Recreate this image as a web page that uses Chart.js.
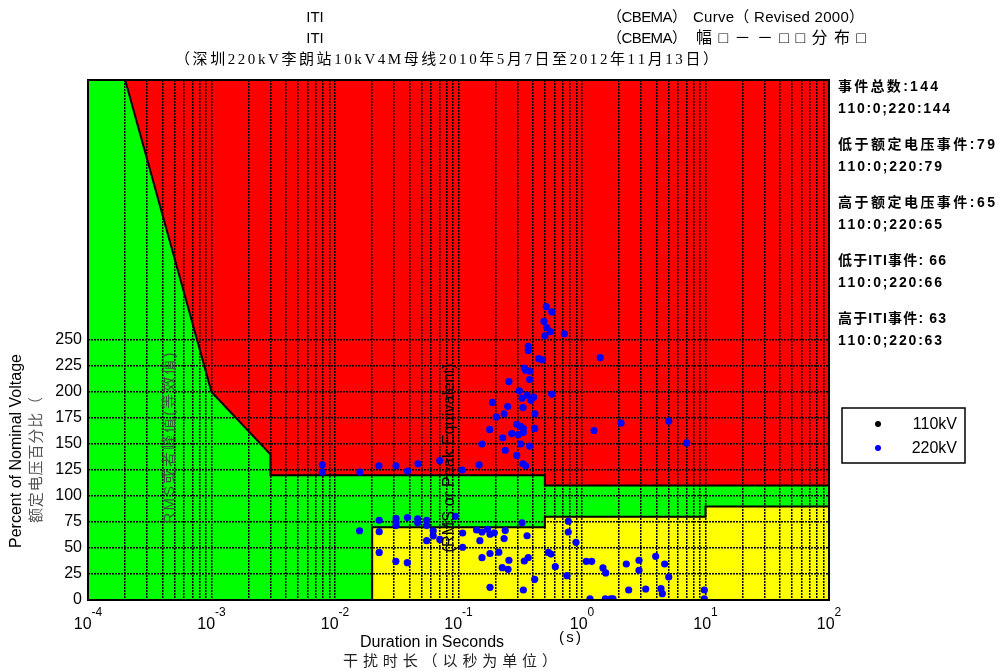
<!DOCTYPE html>
<html>
<head>
<meta charset="utf-8">
<script src="https://cdn.jsdelivr.net/npm/chart.js@4/dist/chart.umd.min.js"></script>
<style>
html, body { margin: 0; padding: 0; background: #fff; }
canvas { display: block; }
</style>
</head>
<body>
<canvas id="iti" width="999" height="671"></canvas>
<script>
// ITI (CBEMA) tolerance boundaries: duration in seconds, percent of nominal voltage
const upperCurveDuration = [1e-4, 2e-4, 1e-3, 3e-3, 3e-3, 0.5, 0.5, 100];
const upperCurvePercent  = [500, 500, 200, 140, 120, 120, 110, 110];
const lowerCurveDuration = [0.02, 0.02, 0.5, 0.5, 10, 10, 100];
const lowerCurvePercent  = [0, 70, 70, 80, 80, 90, 90];

// Recorded voltage events on the 220kV side: duration (s) and magnitude (% of nominal)
const events220Duration = [
  0.514, 0.569, 0.492, 0.518, 0.554, 0.501, 0.719, 0.367, 0.367, 0.446,
  0.477, 1.406, 0.341, 0.350, 0.377, 0.377, 0.256, 0.311, 0.327, 0.359,
  0.406, 0.386, 0.569, 0.188, 0.250, 0.333, 0.234, 0.202, 0.416, 0.296,
  0.319, 0.335, 0.414, 0.335, 0.305, 0.270, 0.228, 0.179, 1.251, 2.07,
  5.04, 7.05, 0.155, 0.319, 0.377, 0.239, 0.296, 0.333, 0.350, 0.147,
  0.107, 0.0705, 0.0470, 0.0386, 0.00789, 0.00789, 0.0159, 0.0227, 0.0312,
  0.0158, 0.0228, 0.0228, 0.0228, 0.0312, 0.0312, 0.0312, 0.0311, 0.0386, 0.0385,
  0.0467, 0.0467, 0.0553, 0.0553, 0.0553, 0.0624, 0.0624, 0.0706, 0.0942, 0.108,
  0.108, 0.140, 0.155, 0.149, 0.172, 0.180, 0.195, 0.239, 0.234, 0.327,
  0.359, 0.155, 0.180, 0.212, 0.256, 0.226, 0.252, 0.341, 0.367, 0.535,
  0.561, 0.414, 0.180, 0.335, 0.774, 0.774, 0.894, 0.608, 0.756, 1.083,
  1.198, 1.479, 1.556, 1.161, 1.545, 1.708, 1.782, 2.284, 2.895, 2.895,
  2.388, 3.28, 3.95, 4.67, 5.04, 4.36, 4.47, 9.78, 9.78
];
const events220Percent = [
  282, 277, 268, 262, 258, 254, 256, 244, 240, 232,
  231, 233, 223, 221, 220, 212, 210, 201, 194, 197,
  195, 192, 198, 190, 186, 185, 179, 176, 179, 169,
  167, 165, 165, 161, 159, 160, 156, 164, 163, 170,
  172, 151, 150, 150, 148, 144, 139, 131, 129, 130,
  125, 134, 131, 124, 130, 123, 123, 129, 129,
  66.6, 76.7, 65.7, 45.7, 78.4, 74.7, 71.6, 37.2, 79.3, 35.9,
  78.1, 74.3, 76.7, 71.6, 57, 66.6, 61.7, 58.2, 80.5, 64.4,
  50.7, 67.3, 65.4, 57, 68, 63.2, 64.6, 66.8, 59.1, 74.3,
  61.8, 40.7, 44.7, 46, 38.2, 31.1, 29.5, 37.5, 40.7, 45.7,
  44.2, 19.9, 12.2, 9.6, 75.7, 65.4, 55.5, 32, 23.4, 37.2,
  37.2, 30.8, 26, 1, 1, 1, 1, 34.6, 38.2, 28.6,
  9.6, 10.6, 42, 34.6, 22.1, 10.9, 6.1, 9.6, 1
];
// No events were recorded on the 110kV side
const events110Duration = [];
const events110Percent = [];

// Axis ticks
const xDecadeExponents = [-4, -3, -2, -1, 0, 1, 2];
const yTickValues = [0, 25, 50, 75, 100, 125, 150, 175, 200, 225, 250];

// Text blocks
const titleLines = ['ITI', 'ITI'];
const titleRightLines = [
  ['（CBEMA）', 'Curve（ Revised 2000）'],
  ['（CBEMA）', '幅□－－□□分布□']
];
const subtitle = '（深圳220kV李朗站10kV4M母线2010年5月7日至2012年11月13日）';
const summaryLines = [
  ['事件总数:144', '110:0;220:144'],
  ['低于额定电压事件:79', '110:0;220:79'],
  ['高于额定电压事件:65', '110:0;220:65'],
  ['低于ITI事件: 66', '110:0;220:66'],
  ['高于ITI事件: 63', '110:0;220:63']
];
const legendLabels = ['110kV', '220kV'];
const legendColors = ['#000000', '#0000ff'];
const yTitle = 'Percent of Nominal Voltage';
const yTitleCn = '额定电压百分比（';
const xTitle = 'Duration in Seconds';
const xUnit = '(s)';
const xTitleCn = '干扰时长（以秒为单位）';
const rmsCn = 'RMS或者峰值(等效值)';
const rmsEn = '(RMS or Peak Equivalent)';

// Vertical grid at every 1..9 x 10^n step across the decades
const xGridValues = [];
for (let i = 0; i < xDecadeExponents.length - 1; i++) {
  for (let m = 1; m <= 9; m++) {
    xGridValues.push(Number((m * Math.pow(10, xDecadeExponents[i])).toPrecision(12)));
  }
}
xGridValues.push(Math.pow(10, xDecadeExponents[xDecadeExponents.length - 1]));

const toPoints = (xs, ys) => xs.map((x, i) => ({ x: x, y: ys[i] }));

const SANS = "'Liberation Sans', Arial, 'Noto Sans CJK SC', sans-serif";
const CJK = "'Liberation Sans', 'Noto Sans CJK SC', sans-serif";
const SERIF_CJK = "'Liberation Serif', 'Noto Sans CJK SC', serif";

// Spread characters evenly over a given width
function spacedText(ctx, text, x, y, width, align) {
  const chars = Array.from(text);
  const widths = chars.map(c => ctx.measureText(c).width);
  const natural = widths.reduce((a, b) => a + b, 0);
  const gap = chars.length > 1 ? (width - natural) / (chars.length - 1) : 0;
  let cx = align === 'center' ? x - width / 2 : x;
  ctx.textAlign = 'left';
  chars.forEach((c, i) => { ctx.fillText(c, cx, y); cx += widths[i] + gap; });
}

const decorations = {
  id: 'decorations',
  afterDatasetsDraw(chart) {
    const { ctx, chartArea: a } = chart;
    ctx.save();
    ctx.strokeStyle = '#000';
    ctx.lineWidth = 2;
    ctx.strokeRect(a.left, a.top, a.right - a.left, a.bottom - a.top);
    ctx.restore();
  },
  afterDraw(chart) {
    const { ctx, scales } = chart;
    const xs = scales.x;
    ctx.save();
    ctx.fillStyle = '#000';
    ctx.textBaseline = 'alphabetic';

    // x tick labels: 10 with superscript exponent
    xDecadeExponents.forEach(e => {
      const px = xs.getPixelForValue(Math.pow(10, e));
      ctx.font = '16px ' + SANS;
      const wBase = ctx.measureText('10').width;
      ctx.font = '12px ' + SANS;
      const expText = String(e);
      const wExp = ctx.measureText(expText).width;
      const start = px - (wBase + wExp) / 2;
      ctx.textAlign = 'left';
      ctx.font = '16px ' + SANS;
      ctx.fillText('10', start, 629);
      ctx.font = '12px ' + SANS;
      ctx.fillText(expText, start + wBase, 616);
    });

    // titles
    ctx.textBaseline = 'middle';
    ctx.font = '15px ' + SANS;
    ctx.textAlign = 'center';
    ctx.fillText(titleLines[0], 315, 18);
    ctx.fillText(titleLines[1], 315, 39);
    ctx.font = '15px ' + CJK;
    spacedText(ctx, titleRightLines[0][0], 607, 18, 80, 'left');
    spacedText(ctx, titleRightLines[0][1], 693, 18, 171, 'left');
    spacedText(ctx, titleRightLines[1][0], 607, 39, 80, 'left');
    ctx.font = '16px ' + CJK;
    spacedText(ctx, titleRightLines[1][1], 696, 39, 170, 'left');
    ctx.font = '15px ' + SERIF_CJK;
    spacedText(ctx, subtitle, 175, 60, 543, 'left');

    // event summary
    ctx.font = 'bold 14px ' + CJK;
    const summaryWidths = [[100, 112], [157, 104], [157, 104], [108, 104], [108, 104]];
    summaryLines.forEach((pair, g) => {
      const y0 = 87 + g * 58;
      spacedText(ctx, pair[0], 838, y0, summaryWidths[g][0], 'left');
      spacedText(ctx, pair[1], 838, y0 + 22, summaryWidths[g][1], 'left');
    });

    // legend
    ctx.fillStyle = '#fff';
    ctx.fillRect(842, 408, 123, 55);
    ctx.strokeStyle = '#000';
    ctx.lineWidth = 1.5;
    ctx.strokeRect(842, 408, 123, 55);
    legendLabels.forEach((lab, i) => {
      const y = 424 + i * 24;
      ctx.fillStyle = legendColors[i];
      ctx.beginPath();
      ctx.arc(878, y, 3, 0, Math.PI * 2);
      ctx.fill();
      ctx.fillStyle = '#000';
      ctx.font = '16px ' + SANS;
      ctx.textAlign = 'right';
      ctx.fillText(lab, 957, y + 1);
    });

    // x axis titles
    ctx.fillStyle = '#000';
    ctx.font = '16px ' + SANS;
    ctx.textAlign = 'center';
    ctx.fillText(xTitle, 432, 643);
    ctx.font = '15px ' + CJK;
    spacedText(ctx, xUnit, 570, 638, 22, 'center');
    ctx.fillStyle = '#222';
    spacedText(ctx, xTitleCn, 450, 662, 214, 'center');

    // y axis titles (rotated)
    const vertical = (cx, cy, fn) => {
      ctx.save();
      ctx.translate(cx, cy);
      ctx.rotate(-Math.PI / 2);
      fn();
      ctx.restore();
    };
    vertical(17, 451, () => {
      ctx.fillStyle = '#000';
      ctx.font = '16px ' + SANS;
      ctx.textAlign = 'center';
      ctx.fillText(yTitle, 0, 0);
    });
    vertical(37, 460, () => {
      ctx.fillStyle = '#555';
      ctx.font = '15px ' + CJK;
      spacedText(ctx, yTitleCn, 0, 0, 126, 'center');
    });

    // RMS annotations inside the plot
    vertical(170, 438, () => {
      ctx.fillStyle = '#3a523a';
      ctx.font = '15px ' + CJK;
      spacedText(ctx, rmsCn, 0, 0, 171, 'center');
    });
    vertical(450, 458, () => {
      ctx.fillStyle = '#000';
      ctx.font = '16px ' + SANS;
      spacedText(ctx, rmsEn, 0, 0, 189, 'center');
    });
    ctx.restore();
  }
};

const gridStyle = { color: '#000', lineWidth: 1.5, drawTicks: false, z: -1 };

new Chart(document.getElementById('iti'), {
  type: 'scatter',
  data: {
    datasets: [
      {
        label: '220kV',
        data: toPoints(events220Duration, events220Percent),
        backgroundColor: '#0000ff',
        borderColor: '#0000ff',
        pointRadius: 3.6,
        pointBorderWidth: 0,
        showLine: false
      },
      {
        label: '110kV',
        data: toPoints(events110Duration, events110Percent),
        backgroundColor: '#000000',
        borderColor: '#000000',
        pointRadius: 3.6,
        pointBorderWidth: 0,
        showLine: false
      },
      {
        label: 'ITI lower',
        data: toPoints(lowerCurveDuration, lowerCurvePercent),
        showLine: true,
        borderColor: '#000',
        borderWidth: 2,
        pointRadius: 0,
        backgroundColor: '#ffff00',
        fill: 'origin'
      },
      {
        label: 'ITI upper',
        data: toPoints(upperCurveDuration, upperCurvePercent),
        showLine: true,
        borderColor: '#000',
        borderWidth: 2,
        pointRadius: 0,
        backgroundColor: '#ff0000',
        fill: 'end'
      },
      {
        label: 'ITI tolerance band',
        data: toPoints(upperCurveDuration, upperCurvePercent),
        showLine: true,
        borderColor: 'rgba(0,0,0,0)',
        borderWidth: 0,
        pointRadius: 0,
        backgroundColor: '#00ff00',
        fill: 'origin'
      }
    ]
  },
  options: {
    responsive: false,
    animation: false,
    events: [],
    layout: { padding: { left: 0, right: 170, top: 80, bottom: 0 } },
    plugins: {
      legend: { display: false },
      tooltip: { enabled: false },
      filler: { drawTime: 'beforeDraw' }
    },
    scales: {
      x: {
        type: 'logarithmic',
        position: 'bottom',
        min: 1e-4,
        max: 100,
        afterBuildTicks: s => { s.ticks = xGridValues.map(v => ({ value: v })); },
        afterFit: s => { s.height = 71; },
        ticks: { display: false },
        grid: gridStyle,
        border: { display: false, dash: [2, 1] }
      },
      y: {
        type: 'linear',
        position: 'left',
        min: 0,
        max: 500,
        afterBuildTicks: s => { s.ticks = yTickValues.map(v => ({ value: v })); },
        afterFit: s => { s.width = 88; },
        ticks: {
          color: '#000',
          padding: 6,
          font: { size: 16, family: SANS },
          callback: v => String(v)
        },
        grid: gridStyle,
        border: { display: false, dash: [2, 1] }
      }
    }
  },
  plugins: [decorations]
});
</script>
</body>
</html>
